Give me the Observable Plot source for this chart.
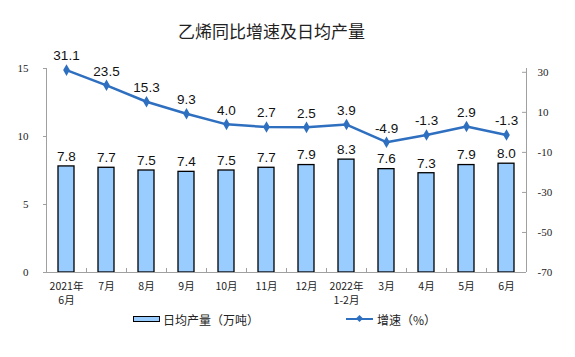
<!DOCTYPE html>
<html>
<head>
<meta charset="utf-8">
<script src="https://cdn.jsdelivr.net/npm/d3@7"></script>
<script src="https://cdn.jsdelivr.net/npm/@observablehq/plot@0.6"></script>
<style>
  html, body { margin: 0; padding: 0; background: #fff; }
  #wrap { position: relative; width: 575px; height: 357px; overflow: hidden; font-family: "Noto Sans CJK SC", sans-serif; }
  #title { position: absolute; left: 0; width: 543px; top: 18px; text-align: center; font-size: 17px; color: #222; }
  #chart { position: absolute; left: 0; top: 0; }
  .lg { position: absolute; top: 310px; font-size: 12px; color: #222; display: flex; align-items: center; height: 18px; }
  .sw-bar { width: 25px; height: 4px; background: #99ccff; border: 1px solid #000; margin-right: 3px; }
  .sw-line { width: 27px; height: 2.5px; background: #2e6fc0; margin-right: 4px; position: relative; }
  .sw-line::after { content: ""; position: absolute; left: 11px; top: -2px; width: 5px; height: 5px; background: #2e6fc0; transform: rotate(45deg); }
</style>
</head>
<body>
<div id="wrap">
  <div id="title">乙烯同比增速及日均产量</div>
  <div id="chart"></div>
  <div class="lg" style="left:133px"><div class="sw-bar"></div>日均产量（万吨）</div>
  <div class="lg" style="left:346px"><div class="sw-line"></div>增速（%）</div>
</div>
<script>
const categories = ["2021年\n6月","7月","8月","9月","10月","11月","12月","2022年\n1-2月","3月","4月","5月","6月"];
const output = [7.8, 7.7, 7.5, 7.4, 7.5, 7.7, 7.9, 8.3, 7.6, 7.3, 7.9, 8.0];
const growth = [31.1, 23.5, 15.3, 9.3, 4.0, 2.7, 2.5, 3.9, -4.9, -1.3, 2.9, -1.3];
const leftTicks = [0, 5, 10, 15];
const rightTicks = [-70, -50, -30, -10, 10, 30];

// right axis (-70..30) mapped onto left units
const R0 = -70, RK = 0.1472;
const toLeft = v => (v - R0) * RK;
const fromLeft = d => Math.round(d / RK + R0);

const bars = categories.map((c, i) => ({cat: c, v: output[i]}));
const pts = categories.map((c, i) => ({cat: c, g: growth[i], y: toLeft(growth[i])}));

const axisColor = "#a0a0a0";
const lineColor = "#2e6fc0";

const plot = Plot.plot({
  width: 575,
  height: 357,
  marginTop: 68,
  marginBottom: 85,
  marginLeft: 46,
  marginRight: 49,
  style: {background: "transparent", overflow: "visible"},
  x: {domain: categories, paddingInner: 0.6, paddingOuter: 0.3, axis: null, label: null},
  y: {domain: [0, 15], axis: null, label: null},
  marks: [
    Plot.barY(bars, {x: "cat", y: "v", fill: "#99ccff", stroke: "#000", strokeWidth: 1.3}),
    Plot.text(bars, {x: "cat", y: "v", text: d => d.v.toFixed(1), dy: -10, fontSize: 13.5, fontFamily: "Liberation Sans, Arial, sans-serif", fill: "#111"}),
    // axis lines
    Plot.ruleY([0], {stroke: axisColor}),
    Plot.ruleX([categories[0]], {x: d => d, dx: -20, stroke: axisColor}),
    Plot.ruleX([categories[categories.length - 1]], {x: d => d, dx: 20, stroke: axisColor}),
    // category separator ticks
    Plot.ruleX(categories.slice(1), {x: d => d, dx: -20, insetTop: 200, stroke: axisColor}),
    // left axis
    Plot.axisY(leftTicks, {anchor: "left", label: null, tickSize: 3, tickPadding: 15, stroke: axisColor, fill: "#222", fontSize: 11, fontFamily: "Liberation Serif, Times New Roman, serif"}),
    // right axis (ticks inward)
    Plot.ruleY(rightTicks.map(toLeft), {y: d => d, insetLeft: 476, stroke: axisColor}),
    Plot.axisY(rightTicks.map(toLeft), {anchor: "right", label: null, tickSize: 0, tickPadding: 11, tickFormat: fromLeft, fill: "#222", fontSize: 11, fontFamily: "Liberation Serif, Times New Roman, serif"}),
    // bottom category labels
    Plot.text(categories, {x: d => d, frameAnchor: "bottom", lineAnchor: "top", dy: 8, lineHeight: 1.3, fontSize: 10.5, fill: "#222", fontFamily: "Noto Sans CJK SC, sans-serif"}),
    // growth line
    Plot.line(pts, {x: "cat", y: "y", stroke: lineColor, strokeWidth: 2.5}),
    Plot.dot(pts, {x: "cat", y: "y", symbol: "diamond", r: 3.5, fill: lineColor}),
    Plot.text(pts, {x: "cat", y: "y", text: d => d.g.toFixed(1), dy: -14, fontSize: 13.5, fontFamily: "Liberation Sans, Arial, sans-serif", fill: "#111"})
  ]
});
document.getElementById("chart").appendChild(plot);
</script>
</body>
</html>
